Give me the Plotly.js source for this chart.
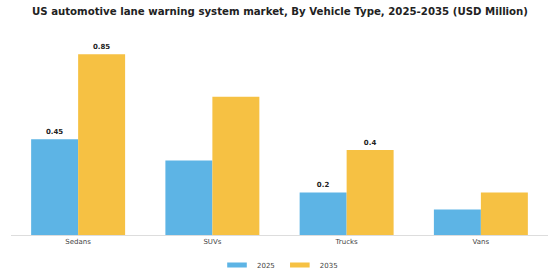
<!DOCTYPE html>
<html>
<head>
<meta charset="utf-8">
<script src="https://cdn.plot.ly/plotly-3.0.1.min.js"></script>
<style>html,body{margin:0;padding:0;background:#fff;}#chart{width:560px;height:280px;}</style>
</head>
<body>
<div id="chart"></div>
<script>
const categories = ["Sedans", "SUVs", "Trucks", "Vans"];
const values2025 = [0.45, 0.35, 0.2, 0.12];
const values2035 = [0.85, 0.65, 0.4, 0.2];
const labels2025 = ["0.45", "", "0.2", ""];
const labels2035 = ["0.85", "", "0.4", ""];
const seriesNames = ["2025", "2035"];
const seriesColors = ["#5DB4E5", "#F6C143"];

const labelFont = {family: "DejaVu Sans", size: 7, color: "#222"};
const traces = [
  {type: "bar", name: seriesNames[0], x: categories, y: values2025, text: labels2025,
   textposition: "outside", texttemplate: "<b>%{text}</b>", textfont: labelFont, cliponaxis: false,
   marker: {color: seriesColors[0]}, hoverinfo: "none", showlegend: false},
  {type: "bar", name: seriesNames[1], x: categories, y: values2035, text: labels2035,
   textposition: "outside", texttemplate: "<b>%{text}</b>", textfont: labelFont, cliponaxis: false,
   marker: {color: seriesColors[1]}, hoverinfo: "none", showlegend: false}
];
seriesNames.forEach((n, i) => traces.push({
  type: "scatter", mode: "markers", name: n, x: [null], y: [null],
  marker: {symbol: "line-ew", size: 14, color: seriesColors[i], line: {width: 5, color: seriesColors[i]}},
  hoverinfo: "none", showlegend: true
}));

const layout = {
  width: 560, height: 280,
  margin: {l: 11, r: 12, t: 35, b: 45},
  paper_bgcolor: "#fff", plot_bgcolor: "#fff",
  title: {text: "<b>US automotive lane warning system market, By Vehicle Type, 2025-2035 (USD Million)</b>",
          font: {family: "DejaVu Sans", size: 10.2, color: "#222"},
          x: 0.5, xanchor: "center", y: 0.96, yanchor: "middle"},
  barmode: "group", bargap: 0.3, bargroupgap: 0,
  xaxis: {showgrid: false, showline: true, linecolor: "#ddd", linewidth: 1, ticks: "",
          tickfont: {family: "DejaVu Sans", size: 7, color: "#444"}, fixedrange: true},
  yaxis: {range: [0, 0.94], showgrid: false, zeroline: false, showticklabels: false, showline: false, fixedrange: true},
  showlegend: true,
  legend: {orientation: "h", x: 0.5, xanchor: "center", xref: "container",
           y: 15 / 280, yanchor: "middle", yref: "container",
           font: {family: "DejaVu Sans", size: 7, color: "#444"}, itemwidth: 30, tracegroupgap: 0},
  font: {family: "DejaVu Sans"}
};

Plotly.newPlot("chart", traces, layout, {displayModeBar: false, staticPlot: true});
</script>
</body>
</html>
